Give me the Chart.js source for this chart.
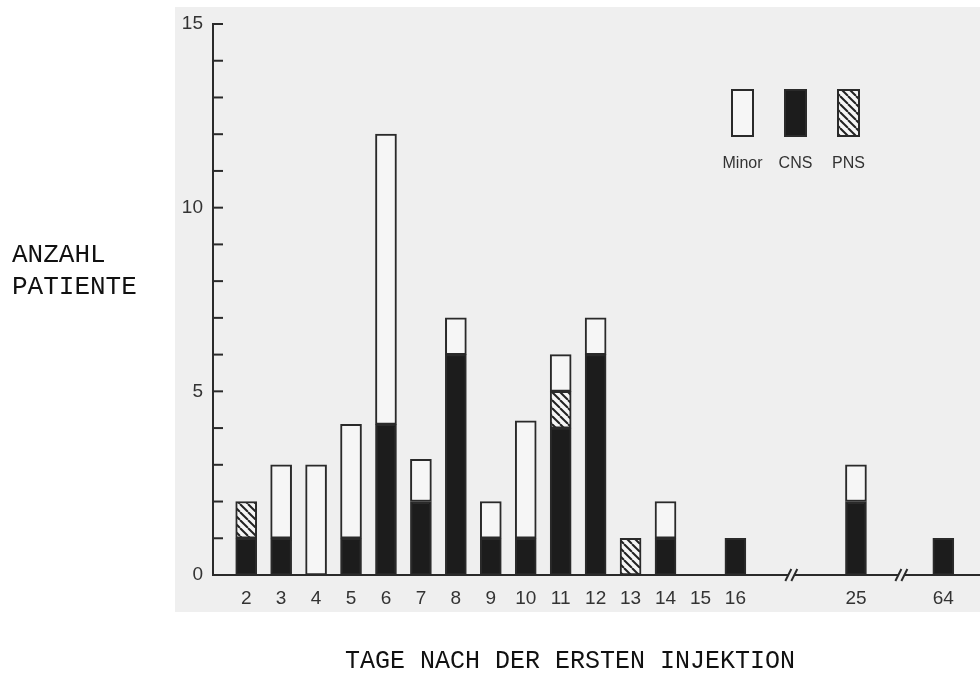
<!DOCTYPE html>
<html>
<head>
<meta charset="utf-8">
<script src="https://cdn.jsdelivr.net/npm/chart.js@4.4.0/dist/chart.umd.min.js"></script>
<style>
  html, body { margin: 0; padding: 0; background: #fff; }
  #wrap { width: 980px; height: 675px; }
</style>
</head>
<body>
<div id="wrap"><canvas id="bar-chart" width="980" height="675"></canvas></div>
<script>
// days after the first injection, as printed under the bars
const dayLabels = ["2", "3", "4", "5", "6", "7", "8", "9", "10", "11", "12", "13", "14", "15", "16", "25", "64"];
// where each day sits on the broken x axis (axis is cut after 16 and after 25)
const axisPos = [1, 2, 3, 4, 5, 6, 7, 8, 9, 10, 11, 12, 13, 14, 15, 18.45, 20.95];
const breakPos = [16.6, 19.75];

// patients per day, stacked bottom to top: CNS, PNS, Minor
const cns   = [1, 1, 0, 1, 4.1, 2, 6, 1, 1, 4, 6, 0, 1, 0, 1, 2, 1];
const pns   = [1, 0, 0, 0, 0, 0, 0, 0, 0, 1, 0, 1, 0, 0, 0, 0, 0];
const minor = [0, 2, 3, 3.1, 7.9, 1.15, 1, 1, 3.2, 1, 1, 0, 1, 0, 0, 1, 0];

const yTicks = [0, 5, 10, 15];

const ink = "#2a2a2a";
const paper = "#efefef";

// diagonal hatch for the PNS bars
const makeHatch = () => {
  const s = 8;
  const c = document.createElement("canvas");
  c.width = s;
  c.height = s;
  const g = c.getContext("2d");
  g.fillStyle = "#f5f5f5";
  g.fillRect(0, 0, s, s);
  g.strokeStyle = "#222";
  g.lineWidth = 2;
  for (let k = -1; k <= 1; k++) {
    g.beginPath();
    g.moveTo(k * s, 0);
    g.lineTo(k * s + s, s);
    g.stroke();
  }
  return g.createPattern(c, "repeat");
};
const hatch = makeHatch();

const points = (arr) => arr.map((v, i) => ({ x: axisPos[i], y: v || null }));

// grey scanned sheet behind the plot
const scanBackground = {
  id: "scanBackground",
  beforeDraw(chart) {
    const ctx = chart.ctx;
    ctx.save();
    ctx.fillStyle = paper;
    ctx.fillRect(175, 7, 805, 605);
    ctx.restore();
  },
};

// inward tick marks, axis breaks, legend boxes and the typed labels
const extras = {
  id: "extras",
  afterDraw(chart) {
    const { ctx, chartArea, scales } = chart;
    const x = scales.x;
    const y = scales.y;
    ctx.save();
    ctx.strokeStyle = ink;
    ctx.lineWidth = 2;

    for (let v = 1; v <= 15; v++) {
      const py = y.getPixelForValue(v);
      ctx.beginPath();
      ctx.moveTo(chartArea.left, py);
      ctx.lineTo(chartArea.left + 10, py);
      ctx.stroke();
    }

    breakPos.forEach((b) => {
      const px = x.getPixelForValue(b);
      const py = chartArea.bottom;
      ctx.fillStyle = paper;
      ctx.fillRect(px - 3, py - 2, 6, 4);
      [-3, 3].forEach((d) => {
        ctx.beginPath();
        ctx.moveTo(px + d - 3, py + 6);
        ctx.lineTo(px + d + 3, py - 6);
        ctx.stroke();
      });
    });

    // legend
    const legend = [
      { text: "Minor", fill: "#f6f6f6", left: 731 },
      { text: "CNS", fill: "#1c1c1c", left: 784 },
      { text: "PNS", fill: hatch, left: 837 },
    ];
    ctx.font = '16px "Liberation Sans", Arial, sans-serif';
    ctx.textAlign = "center";
    ctx.textBaseline = "alphabetic";
    legend.forEach((l) => {
      ctx.fillStyle = l.fill;
      ctx.fillRect(l.left, 89, 23, 48);
      ctx.strokeRect(l.left + 1, 90, 21, 46);
      ctx.fillStyle = "#333";
      ctx.fillText(l.text, l.left + 11.5, 168);
    });

    // axis captions
    ctx.fillStyle = "#111";
    ctx.textAlign = "left";
    ctx.font = '26px "Liberation Mono", "Courier New", monospace';
    ctx.fillText("ANZAHL", 12, 262);
    ctx.fillText("PATIENTE", 12, 294);
    ctx.font = '25px "Liberation Mono", "Courier New", monospace';
    ctx.fillText("TAGE NACH DER ERSTEN INJEKTION", 345, 668);
    ctx.restore();
  },
};

const barStyle = {
  borderColor: ink,
  borderWidth: 2,
  borderSkipped: false,
  barThickness: 21,
};

new Chart(document.getElementById("bar-chart"), {
  type: "bar",
  data: {
    datasets: [
      { label: "CNS", data: points(cns), backgroundColor: "#1c1c1c", ...barStyle },
      { label: "PNS", data: points(pns), backgroundColor: hatch, ...barStyle },
      { label: "Minor", data: points(minor), backgroundColor: "#f6f6f6", ...barStyle },
    ],
  },
  options: {
    responsive: false,
    animation: false,
    layout: { padding: { top: 24, right: 0, bottom: 0, left: 0 } },
    plugins: {
      legend: { display: false },
      tooltip: { enabled: false },
    },
    scales: {
      x: {
        type: "linear",
        stacked: true,
        offset: false,
        min: 0.05,
        max: 22,
        grid: { display: false, drawTicks: false },
        border: { color: ink, width: 2 },
        afterBuildTicks: (s) => {
          s.ticks = axisPos.map((v) => ({ value: v }));
        },
        afterFit: (s) => {
          s.height = 100;
        },
        ticks: {
          autoSkip: false,
          maxRotation: 0,
          padding: 12,
          color: "#333",
          font: { family: '"Liberation Sans", Arial, sans-serif', size: 19 },
          callback: (v, i) => dayLabels[i],
        },
      },
      y: {
        stacked: true,
        min: 0,
        max: 15,
        grid: { display: false, drawTicks: false },
        border: { color: ink, width: 2 },
        afterBuildTicks: (s) => {
          s.ticks = yTicks.map((v) => ({ value: v }));
        },
        afterFit: (s) => {
          s.width = 213;
        },
        ticks: {
          padding: 10,
          color: "#333",
          font: { family: '"Liberation Sans", Arial, sans-serif', size: 19 },
        },
      },
    },
  },
  plugins: [scanBackground, extras],
});
</script>
</body>
</html>
